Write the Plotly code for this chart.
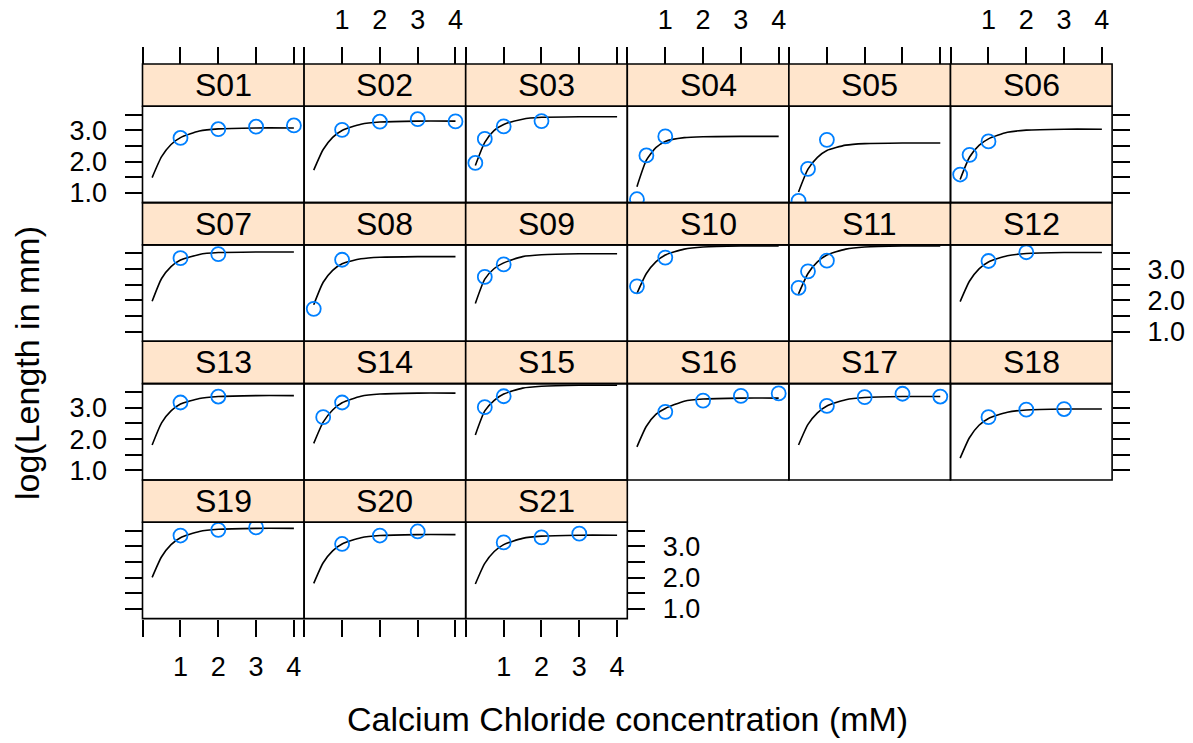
import plotly.graph_objects as go

# ---------------- data ----------------
panels = ["S01", "S02", "S03", "S04", "S05", "S06",
          "S07", "S08", "S09", "S10", "S11", "S12",
          "S13", "S14", "S15", "S16", "S17", "S18",
          "S19", "S20", "S21"]

point_x = [
    [1, 2, 3, 4], [1, 2, 3, 4], [0.25, 0.5, 1, 2], [0.25, 0.5, 1], [0.25, 0.5, 1], [0.25, 0.5, 1],
    [1, 2], [0.25, 1], [0.5, 1], [0.25, 1], [0.25, 0.5, 1], [1, 2],
    [1, 2], [0.5, 1], [0.5, 1], [1, 2, 3, 4], [1, 2, 3, 4], [1, 2, 3],
    [1, 2, 3], [1, 2, 3], [1, 2, 3],
]
point_y = [
    [2.76, 3.04, 3.12, 3.16], [3.02, 3.28, 3.36, 3.29], [1.96, 2.73, 3.13, 3.30],
    [0.80, 2.20, 2.81], [0.75, 1.77, 2.70], [1.59, 2.22, 2.65],
    [3.35, 3.48], [1.73, 3.30], [2.75, 3.15], [2.45, 3.37], [2.40, 2.93, 3.27], [3.26, 3.54],
    [3.17, 3.36], [2.70, 3.17], [3.02, 3.37], [2.87, 3.23, 3.38, 3.46],
    [3.06, 3.34, 3.45, 3.36], [2.70, 2.94, 2.96],
    [3.35, 3.53, 3.61], [3.08, 3.35, 3.48], [3.13, 3.29, 3.41],
]

curve_x = [0.25, 0.5, 0.75, 1.0, 1.5, 2.0, 3.0, 4.0]
curve_y = [
    [1.49, 2.16, 2.55, 2.77, 2.98, 3.05, 3.08, 3.08],
    [1.73, 2.39, 2.78, 3.00, 3.20, 3.27, 3.30, 3.30],
    [1.88, 2.62, 3.00, 3.19, 3.36, 3.42, 3.44, 3.44],
    [1.20, 2.05, 2.45, 2.65, 2.77, 2.80, 2.81, 2.81],
    [1.03, 1.76, 2.14, 2.36, 2.53, 2.58, 2.60, 2.60],
    [1.43, 2.15, 2.52, 2.73, 2.94, 3.01, 3.04, 3.04],
    [1.97, 2.70, 3.08, 3.29, 3.47, 3.53, 3.55, 3.55],
    [1.86, 2.58, 2.96, 3.17, 3.33, 3.38, 3.40, 3.40],
    [1.90, 2.68, 3.02, 3.20, 3.40, 3.46, 3.49, 3.49],
    [2.22, 2.86, 3.23, 3.45, 3.64, 3.71, 3.74, 3.74],
    [2.21, 2.86, 3.23, 3.45, 3.64, 3.71, 3.74, 3.74],
    [1.96, 2.62, 3.01, 3.23, 3.43, 3.50, 3.53, 3.53],
    [1.81, 2.52, 2.90, 3.12, 3.30, 3.36, 3.39, 3.39],
    [1.86, 2.54, 2.93, 3.16, 3.37, 3.44, 3.47, 3.47],
    [2.13, 2.90, 3.24, 3.44, 3.63, 3.69, 3.72, 3.72],
    [1.75, 2.41, 2.79, 2.98, 3.21, 3.28, 3.31, 3.31],
    [1.81, 2.47, 2.84, 3.06, 3.26, 3.33, 3.36, 3.36],
    [1.39, 2.05, 2.44, 2.66, 2.86, 2.93, 2.96, 2.96],
    [2.01, 2.67, 3.06, 3.28, 3.48, 3.55, 3.58, 3.58],
    [1.82, 2.48, 2.86, 3.08, 3.28, 3.35, 3.38, 3.38],
    [1.80, 2.46, 2.84, 3.06, 3.26, 3.33, 3.36, 3.36],
]

x_tickvals = [0, 1, 2, 3, 4]
x_ticktext = ["", "1", "2", "3", "4"]
y_tickvals = [1.0, 1.5, 2.0, 2.5, 3.0, 3.5]
y_ticktext = ["1.0", "", "2.0", "", "3.0", ""]

x_title = "Calcium Chloride concentration (mM)"
y_title = "log(Length in mm)"

# ---------------- geometry ----------------
W, H = 1193, 743
NCOL = 6
LEFT, COLW = 142.5, 161.6
TOP, ROWH, STRIPH, PANELH = 64.5, 139.8, 42.6, 97.2
XRANGE = [-0.005, 4.27]
YRANGE = [0.69, 3.775]
FONT = "Liberation Sans, Arial, Helvetica, sans-serif"
LW = 1.6
TICKLEN = 17
TICKFONT = 27

fig = go.Figure()
shapes = []
annotations = []
layout_axes = {}

def fx(px):
    return px / W

def fy(py):
    return 1 - py / H

n_rows = (len(panels) + NCOL - 1) // NCOL

for i, name in enumerate(panels):
    r, c = divmod(i, NCOL)
    k = i + 1
    xs = "" if k == 1 else str(k)
    x0 = LEFT + c * COLW
    x1 = x0 + COLW
    s_top = TOP + r * ROWH
    p_top = s_top + STRIPH
    p_bot = p_top + PANELH

    fig.add_trace(go.Scatter(
        x=curve_x, y=curve_y[i], mode="lines",
        line=dict(color="black", width=LW, shape="spline", smoothing=0.6),
        xaxis="x" + xs, yaxis="y" + xs, showlegend=False, hoverinfo="skip"))
    fig.add_trace(go.Scatter(
        x=point_x[i], y=point_y[i], mode="markers",
        marker=dict(symbol="circle-open", size=14, color="#0080ff",
                    line=dict(width=1.8, color="#0080ff")),
        xaxis="x" + xs, yaxis="y" + xs, showlegend=False))

    xa = dict(domain=[fx(x0), fx(x1)], range=XRANGE, anchor="y" + xs,
              showgrid=False, zeroline=False, showline=False,
              tickvals=x_tickvals, ticktext=x_ticktext, ticks="",
              showticklabels=False, fixedrange=True,
              tickfont=dict(size=TICKFONT, color="black", family=FONT))
    ya = dict(domain=[fy(p_bot), fy(p_top)], range=YRANGE, anchor="x" + xs,
              showgrid=False, zeroline=False, showline=False,
              tickvals=y_tickvals, ticktext=y_ticktext, ticks="",
              showticklabels=False, fixedrange=True,
              tickfont=dict(size=TICKFONT, color="black", family=FONT))

    last_row = (r == n_rows - 1)
    last_in_row = (c == NCOL - 1) or (i == len(panels) - 1)

    if r == 0:
        xa.update(side="top", anchor="free", position=fy(s_top), ticks="outside",
                  ticklen=TICKLEN, tickwidth=LW, tickcolor="black",
                  showticklabels=(c % 2 == 1), ticklabelstandoff=7)
    if last_row:
        xa.update(side="bottom", ticks="outside", ticklen=TICKLEN, tickwidth=LW,
                  tickcolor="black", showticklabels=(c % 2 == 0), ticklabelstandoff=7)
    if c == 0:
        ya.update(side="left", ticks="outside", ticklen=TICKLEN, tickwidth=LW,
                  tickcolor="black", showticklabels=(r % 2 == 0), ticklabelstandoff=12)
    elif last_in_row:
        ya.update(side="right", ticks="outside", ticklen=TICKLEN, tickwidth=LW,
                  tickcolor="black", showticklabels=(r % 2 == 1), ticklabelstandoff=12)

    layout_axes["xaxis" + xs] = xa
    layout_axes["yaxis" + xs] = ya

    # strip
    shapes.append(dict(type="rect", xref="paper", yref="paper",
                       x0=fx(x0), x1=fx(x1), y0=fy(p_top), y1=fy(s_top),
                       fillcolor="#FFE5CC", line=dict(color="black", width=LW),
                       layer="below"))
    # panel frame
    shapes.append(dict(type="rect", xref="paper", yref="paper",
                       x0=fx(x0), x1=fx(x1), y0=fy(p_bot), y1=fy(p_top),
                       fillcolor="rgba(0,0,0,0)", line=dict(color="black", width=LW),
                       layer="above"))
    annotations.append(dict(text=name, xref="paper", yref="paper",
                            x=fx((x0 + x1) / 2), y=fy(s_top + STRIPH / 2),
                            xanchor="center", yanchor="middle", showarrow=False,
                            font=dict(size=32, color="black", family=FONT)))

annotations.append(dict(text=x_title, xref="paper", yref="paper",
                        x=fx(627), y=fy(725), xanchor="center", yanchor="middle",
                        showarrow=False, font=dict(size=34, color="black", family=FONT)))
annotations.append(dict(text=y_title, xref="paper", yref="paper",
                        x=fx(27), y=fy(366), xanchor="center", yanchor="middle",
                        textangle=-90, showarrow=False,
                        font=dict(size=34, color="black", family=FONT)))

fig.update_layout(
    width=W, height=H, margin=dict(l=0, r=0, t=0, b=0),
    paper_bgcolor="white", plot_bgcolor="rgba(0,0,0,0)",
    shapes=shapes, annotations=annotations,
    font=dict(family=FONT, color="black"),
    **layout_axes)

fig.write_html("out.html", config={"displayModeBar": False},
               post_script="document.body.style.margin='0';")
